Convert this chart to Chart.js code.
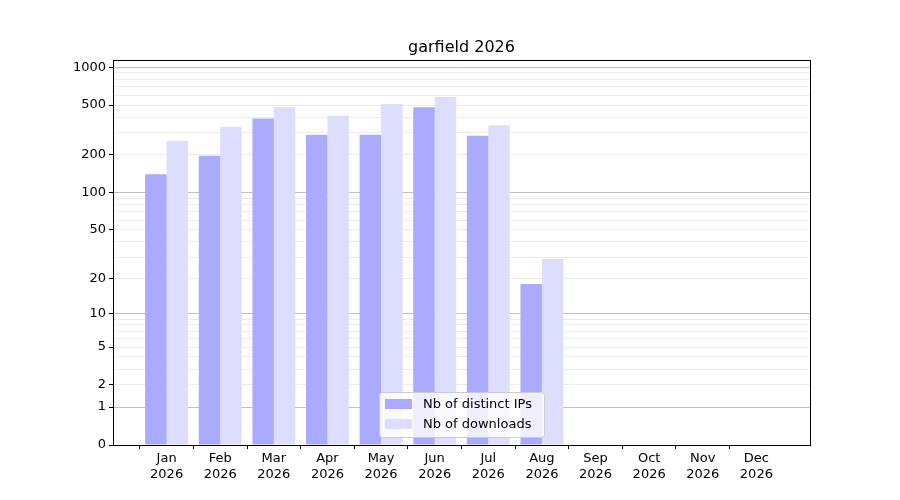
<!DOCTYPE html>
<html>
<head>
<meta charset="UTF-8">
<script src="https://cdn.jsdelivr.net/npm/chart.js"></script>
<style>
  body { margin: 0; background: #fff; }
  #wrap { width: 900px; height: 500px; }
</style>
</head>
<body>
<div id="wrap"><canvas id="c" width="900" height="500"></canvas></div>
<script>
const months = ['Jan', 'Feb', 'Mar', 'Apr', 'May', 'Jun', 'Jul', 'Aug', 'Sep', 'Oct', 'Nov', 'Dec'];
const year = '2026';
const distinctIPs = [140, 197, 390, 290, 290, 480, 285, 18, 0, 0, 0, 0];
const downloads = [260, 335, 480, 410, 510, 580, 345, 29, 0, 0, 0, 0];
const yLabelled = [0, 1, 2, 5, 10, 20, 50, 100, 200, 500, 1000];
const yMajor = [1, 10, 100, 1000];

// symlog (linthresh 1) ~ log10(1 + v)
const tf = v => Math.log10(1 + v);
const inv = t => Math.round(Math.pow(10, t) - 1);

let yTicks = [0];
[1, 10, 100, 1000].forEach(d => { for (let k = 1; k <= 9; k++) if (d * k <= 1000) yTicks.push(d * k); });

const labels = [''].concat(months.map(m => [m, year])).concat(['']);
const pad = a => [null].concat(a.map(tf)).concat([null]);

const frame = {
  id: 'frame',
  afterDraw(chart) {
    const { ctx, chartArea: a } = chart;
    ctx.save();
    ctx.strokeStyle = '#000';
    ctx.lineWidth = 1;
    ctx.strokeRect(a.left + 0.5, a.top + 0.5, a.right - a.left, a.bottom - a.top);
    ctx.fillStyle = '#000';
    ctx.font = '16px "DejaVu Sans"';
    ctx.textAlign = 'center';
    ctx.textBaseline = 'alphabetic';
    ctx.fillText('garfield 2026', (a.left + a.right) / 2, 52);
    // legend
    const x0 = 379, y0 = 392, w = 165, h = 45;
    ctx.fillStyle = 'rgba(255,255,255,0.8)';
    ctx.strokeStyle = '#cccccc';
    ctx.beginPath();
    ctx.roundRect(x0 + 0.5, y0 + 0.5, w, h, 3);
    ctx.fill(); ctx.stroke();
    ctx.font = '13px "DejaVu Sans"';
    ctx.textAlign = 'left';
    ctx.textBaseline = 'middle';
    [['#aaaaff', 'Nb of distinct IPs'], ['#ddddff', 'Nb of downloads']].forEach((it, i) => {
      const yy = y0 + 12 + i * 20;
      ctx.fillStyle = it[0];
      ctx.fillRect(x0 + 6, yy - 5, 27, 10);
      ctx.fillStyle = '#000';
      ctx.fillText(it[1], x0 + 44, yy + 1);
    });
    ctx.restore();
  }
};

new Chart(document.getElementById('c'), {
  type: 'bar',
  data: {
    labels: labels,
    datasets: [
      { label: 'Nb of distinct IPs', data: pad(distinctIPs), backgroundColor: '#aaaaff', categoryPercentage: 0.8, barPercentage: 1 },
      { label: 'Nb of downloads', data: pad(downloads), backgroundColor: '#ddddff', categoryPercentage: 0.8, barPercentage: 1 }
    ]
  },
  options: {
    responsive: false,
    animation: false,
    layout: { padding: { left: 73, right: 90, top: 60, bottom: 0 } },
    plugins: { legend: { display: false }, title: { display: false }, tooltip: { enabled: false } },
    scales: {
      x: {
        offset: false,
        afterFit: s => { s.height = 55; },
        grid: {
          drawOnChartArea: false, tickLength: 4,
          tickColor: c => (c.index === 0 || c.index === 13) ? 'rgba(0,0,0,0)' : '#000'
        },
        border: { display: false },
        ticks: { color: '#000', font: { family: 'DejaVu Sans', size: 13 }, maxRotation: 0, autoSkip: false, padding: 2 }
      },
      y: {
        min: 0,
        max: tf(1140),
        afterFit: s => { s.width = 40; },
        afterBuildTicks: s => { s.ticks = yTicks.map(v => ({ value: tf(v) })); },
        border: { display: false },
        grid: {
          color: c => {
            const v = inv(c.tick.value);
            if (v === 0) return 'rgba(0,0,0,0)';
            return yMajor.includes(v) ? '#c0c0c0' : '#ececec';
          },
          tickLength: 4,
          tickColor: c => yLabelled.includes(inv(c.tick.value)) ? '#000' : 'rgba(0,0,0,0)'
        },
        ticks: {
          color: '#000', font: { family: 'DejaVu Sans', size: 13 }, autoSkip: false, padding: 3,
          callback: v => { const r = inv(v); return yLabelled.includes(r) ? String(r) : ''; }
        }
      }
    }
  },
  plugins: [frame]
});
</script>
</body>
</html>
